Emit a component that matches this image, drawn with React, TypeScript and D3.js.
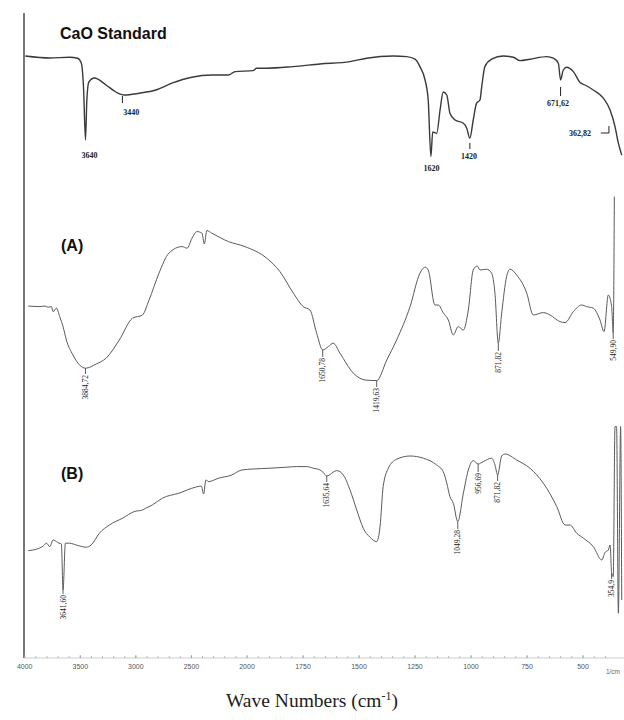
import { scaleLinear, line, curveMonotoneX, range } from "d3"

// wavenumber (cm-1), value = relative transmittance
const caoStandard: [number, number][] = [
  [3995, 57], [3774, 56], [3596, 56.4], [3524, 55.9], [3491, 53.5], [3471, 41.5], [3453, 15],
  [3441, 35], [3423, 44], [3372, 46], [3268, 42.5], [3179, 39], [3104, 37.5], [2970, 38.4],
  [2821, 40], [2676, 43.4], [2497, 46.4], [2319, 47.5], [2167, 47.5], [2107, 49.2], [1973, 49.7],
  [1957, 50.9], [1912, 50.9], [1795, 51.7], [1674, 53], [1540, 54.2], [1466, 55.9], [1347, 57],
  [1287, 56.7], [1250, 55.4], [1228, 51.7], [1205, 45], [1191, 35], [1179, 6.7], [1171, 19],
  [1153, 18.4], [1138, 30], [1124, 39], [1108, 37.5], [1094, 28.4], [1071, 25], [1034, 23.4],
  [1019, 20.9], [1005, 15.9], [990, 25], [975, 33.4], [960, 35], [952, 41.7], [938, 51.7],
  [908, 55.4], [856, 57], [811, 56.4], [781, 54.7], [737, 55.4], [662, 56.7], [632, 55.9],
  [610, 53.4], [600, 45], [588, 50], [573, 51.4], [543, 49.2], [513, 43.7], [491, 42.5],
  [454, 40], [409, 35.9], [379, 30], [357, 21.7], [342, 13.4], [327, 7.5],
]

const sampleA: [number, number][] = [
  [3968, 42], [3863, 41.7], [3819, 42], [3789, 41.4], [3759, 41.7], [3745, 39.2], [3714, 40.9],
  [3685, 36.7], [3655, 31.7], [3625, 25], [3566, 17.5], [3506, 12.5], [3453, 10.9], [3357, 13],
  [3268, 15.9], [3149, 25], [3030, 35.9], [2941, 37.5], [2881, 45], [2792, 58.4], [2703, 68.4],
  [2584, 71.7], [2539, 70.9], [2495, 75.9], [2450, 79.2], [2405, 78.4], [2384, 73], [2361, 79.7],
  [2316, 78.4], [2167, 74.2], [2018, 71.7], [1912, 65.9], [1853, 59.2], [1793, 48.4], [1749, 41.7],
  [1719, 40], [1689, 28.4], [1662, 20], [1637, 21.7], [1615, 23.4], [1585, 18.4], [1525, 8.4],
  [1473, 5], [1421, 4.7], [1376, 15], [1332, 25], [1272, 41.7], [1228, 58.4], [1205, 61.4],
  [1191, 60], [1161, 42.5], [1146, 42.5], [1123, 38.4], [1101, 35], [1079, 27.5], [1057, 31.7],
  [1034, 30], [1012, 40], [990, 60], [972, 62], [960, 60], [930, 60.4], [908, 58.4], [893, 48.4],
  [878, 23.4], [863, 38.4], [841, 56.7], [826, 60.4], [796, 57.5], [751, 48.4], [722, 37.5],
  [677, 38.7], [647, 37.5], [603, 34.2], [580, 33.7], [543, 39.2], [506, 42.5], [484, 41.7],
  [454, 40.9], [424, 35], [406, 29.2], [387, 47.5], [372, 41.7], [365, 28.4], [360, 96.7],
]

const sampleB: [number, number][] = [
  [3968, 34.7], [3893, 35.4], [3834, 37], [3804, 38.4], [3774, 36.7], [3745, 40], [3714, 39.2],
  [3691, 38.4], [3670, 38], [3655, 15], [3634, 38.4], [3596, 38.4], [3536, 37.5], [3446, 36.4],
  [3402, 37.5], [3328, 43.4], [3238, 47.5], [3120, 50.9], [3015, 54.2], [2941, 55], [2911, 55.9],
  [2852, 57.5], [2762, 60.9], [2613, 63.4], [2464, 66.4], [2411, 67], [2390, 63], [2370, 70],
  [2345, 69.2], [2256, 70.9], [2137, 72.5], [2048, 75], [1972, 75.5], [1897, 75.9], [1823, 76.4],
  [1778, 76.7], [1733, 76.7], [1704, 75.9], [1674, 75], [1659, 73.7], [1644, 72], [1600, 74.7],
  [1570, 72.5], [1540, 65], [1510, 55], [1481, 45.9], [1451, 41.4], [1421, 39.2], [1406, 46.7],
  [1392, 66.7], [1369, 75.9], [1332, 80.4], [1272, 82], [1213, 80.9], [1153, 77.5], [1124, 74.2],
  [1108, 68.4], [1094, 61.7], [1079, 58.4], [1059, 49.2], [1034, 63.4], [1012, 75], [990, 79.7],
  [968, 78], [945, 79.2], [908, 80.9], [893, 77.5], [881, 72.5], [863, 82], [848, 83], [796, 80],
  [737, 75.9], [677, 68.4], [617, 56.7], [580, 47.5], [558, 47.5], [528, 43.4], [498, 40.9],
  [454, 36.7], [416, 30], [402, 33.7], [387, 35], [379, 37.5], [372, 23.4], [365, 21.7],
  [357, 96.7], [350, 96.7], [342, 3.4], [332, 96.7], [327, 10],
]

// peak annotations: text, wavenumber, value at the curve, value where the text sits
const caoLabels = [
  { text: "3640", w: 3417, t: 6 },
  { text: "3440", w: 3042, t: 27.5, tick: [3121, 37, 33.5] },
  { text: "1620", w: 1176, t: -0.5 },
  { text: "1420", w: 1009, t: 5.5, tick: [1005, 13.5, 10.5] },
  { text: "671,62", w: 612, t: 32, tick: [600, 41.5, 37] },
  { text: "362,82", w: 513, t: 17 },
]
const aLabels = [
  { text: "3884,72", w: 3453, tip: 10.9, t: 8 },
  { text: "1650,78", w: 1662, tip: 20, t: 16.5 },
  { text: "1419,63", w: 1421, tip: 4.7, t: 1.5 },
  { text: "871,82", w: 878, tip: 23.4, t: 19.5 },
  { text: "549,90", w: 365, tip: 28.4, t: 25.5 },
]
const bLabels = [
  { text: "3641,60", w: 3655, tip: 15, t: 13 },
  { text: "1635,64", w: 1644, tip: 72, t: 69 },
  { text: "1049,28", w: 1059, tip: 49.2, t: 45.5 },
  { text: "956,69", w: 968, tip: 78, t: 74 },
  { text: "871,82", w: 881, tip: 72.5, t: 69.5 },
  { text: "354,9", w: 372, tip: 23.4, t: 20.5 },
]

const majorTicks = [4000, 3500, 3000, 2500, 2000, 1750, 1500, 1250, 1000, 750, 500]
const panelNames = ["CaO Standard", "(A)", "(B)"]

const W = 624
const H = 720
const AXIS_X = 24
const AXIS_Y = 658
const PANEL_BOTTOMS = [170, 390, 620]
const PANEL_SPAN = 200

export default function App() {
  // Shimadzu style axis: scale doubles below 2000 cm-1
  const x = scaleLinear().domain([4000, 2000, 320]).range([24.7, 247, 623.3])
  const ys = PANEL_BOTTOMS.map((b) => scaleLinear().domain([0, 100]).range([b, b - PANEL_SPAN]))

  const series = [caoStandard, sampleA, sampleB]
  const paths = series.map((data, i) =>
    line<[number, number]>()
      .x((d) => x(d[0]))
      .y((d) => ys[i](d[1]))
      .curve(curveMonotoneX)(data)
  )

  const minorTicks = [...range(4000, 2000, -100), ...range(2000, 350, -50)]

  const rotLabels = (labels: typeof aLabels, yS: (v: number) => number, key: string) =>
    labels.map((l, i) => (
      <g key={key + i}>
        <line x1={x(l.w)} x2={x(l.w)} y1={yS(l.tip)} y2={yS(l.t)} stroke="#333" strokeWidth={0.8} />
        <text
          transform={`translate(${x(l.w)},${yS(l.t) + 1}) rotate(-90)`}
          textAnchor="end"
          dy="0.33em"
          fontSize={7.5}
          fontFamily="'Liberation Serif', serif"
          fill="#222"
        >
          {l.text}
        </text>
      </g>
    ))

  return (
    <svg
      width={W}
      height={H}
      style={{ position: "absolute", left: 0, top: 0, background: "#fff" }}
      fontFamily="'Liberation Sans', Arial, sans-serif"
    >
      <rect width={W} height={H} fill="#fff" />

      {/* axes */}
      <line x1={AXIS_X} x2={AXIS_X} y1={13} y2={AXIS_Y} stroke="#777" strokeWidth={2} />
      <line x1={AXIS_X} x2={W} y1={AXIS_Y} y2={AXIS_Y} stroke="#ccc" strokeWidth={1} />
      {minorTicks.map((t) => (
        <line key={"m" + t} x1={x(t)} x2={x(t)} y1={AXIS_Y} y2={AXIS_Y - 2} stroke="#aaa" strokeWidth={0.8} />
      ))}
      {majorTicks.map((t) => (
        <g key={"t" + t}>
          <line x1={x(t)} x2={x(t)} y1={AXIS_Y} y2={AXIS_Y - 3} stroke="#999" strokeWidth={0.8} />
          <text x={x(t)} y={AXIS_Y + 11} textAnchor="middle" fontSize={7} fill="#555">
            {t}
          </text>
        </g>
      ))}
      <text x={W - 4} y={AXIS_Y + 16} textAnchor="end" fontSize={6.5} fill="#666">
        1/cm
      </text>

      {/* spectra */}
      {paths.map((d, i) => (
        <path
          key={"p" + i}
          d={d ?? ""}
          fill="none"
          stroke={i === 0 ? "#3a3a3a" : "#5a5a5a"}
          strokeWidth={i === 0 ? 1.4 : 1}
          strokeLinejoin="round"
        />
      ))}

      {/* panel names */}
      <text x={60} y={39} fontSize={16} fontWeight="bold" fill="#111">
        {panelNames[0]}
      </text>
      <text x={61} y={251} fontSize={16} fontWeight="bold" fill="#111">
        {panelNames[1]}
      </text>
      <text x={61} y={479} fontSize={16} fontWeight="bold" fill="#111">
        {panelNames[2]}
      </text>

      {/* CaO standard peak labels */}
      {caoLabels.map((l, i) => (
        <g key={"c" + i}>
          {l.tick && (
            <line
              x1={x(l.tick[0])}
              x2={x(l.tick[0])}
              y1={ys[0](l.tick[1])}
              y2={ys[0](l.tick[2])}
              stroke="#222"
              strokeWidth={1}
            />
          )}
          <text
            x={x(l.w)}
            y={ys[0](l.t)}
            textAnchor="middle"
            fontSize={8}
            fontWeight="bold"
            fontFamily="'Liberation Serif', serif"
            fill="#222"
          >
            {l.text}
          </text>
        </g>
      ))}
      <path
        d={`M${x(420)},${ys[0](18.5)}H${x(384)}V${ys[0](22)}`}
        fill="none"
        stroke="#222"
        strokeWidth={1}
      />

      {rotLabels(aLabels, ys[1], "a")}
      {rotLabels(bLabels, ys[2], "b")}

      {/* axis title */}
      <text
        x={312}
        y={707}
        textAnchor="middle"
        fontSize={19.5}
        fontFamily="'Liberation Serif', 'Times New Roman', serif"
        fill="#222"
      >
        Wave Numbers (cm
        <tspan fontSize={12} dy={-7}>
          -1
        </tspan>
        <tspan dy={7}>)</tspan>
      </text>
    </svg>
  )
}
